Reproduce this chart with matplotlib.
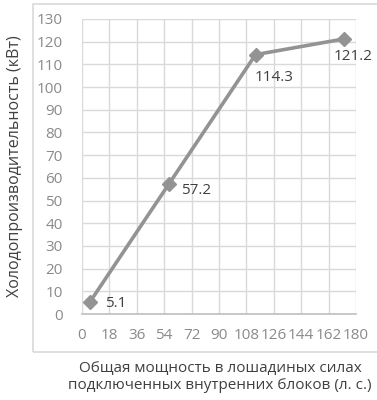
import matplotlib
matplotlib.use("Agg")
import matplotlib.pyplot as plt
from matplotlib.patches import Rectangle

plt.rcParams['font.family'] = ['Open Sans', 'DejaVu Sans']

# Connected indoor unit horsepower vs. cooling capacity
hp_total = [5, 57, 114, 172]
capacity_kw = [5.1, 57.2, 114.3, 121.2]
value_labels = ["5.1", "57.2", "114.3", "121.2"]
x_ticks = [0, 18, 36, 54, 72, 90, 108, 126, 144, 162, 180]
y_ticks = [0, 10, 20, 30, 40, 50, 60, 70, 80, 90, 100, 110, 120, 130]

x_title = "Общая мощность в лошадиных силах\nподключенных внутренних блоков (л. с.)"
y_title = "Холодопроизводительность (кВт)"

# label offsets (pixels) relative to each marker
label_offsets = [(15, -1), (12, -6), (-1, -23), (-10, -18)]

W, H = 377, 400
fig = plt.figure(figsize=(W / 100, H / 100), dpi=100)
fig.patch.set_facecolor("white")

# chart-area frame
fig.patches.append(Rectangle((33 / W, 1 - 352 / H), 1.2, (352 - 4) / H,
                             transform=fig.transFigure, fill=False,
                             edgecolor="#d9d9d9", lw=1.2))

ax = fig.add_axes([82 / W, 1 - 314 / H, (356 - 82) / W, (314 - 19) / H])
ax.set_xlim(0, 180)
ax.set_ylim(0, 130)
ax.set_xticks(x_ticks)
ax.set_yticks(y_ticks)
ax.grid(True, color="#d9d9d9", lw=1.0)
ax.set_axisbelow(True)
for s in ["top", "right", "left"]:
    ax.spines[s].set_visible(False)
ax.spines["bottom"].set_color("#bfbfbf")
ax.spines["bottom"].set_linewidth(1.2)
ax.tick_params(length=0, labelsize=11, labelcolor="#8a8a8a")
ax.tick_params(axis="y", pad=14)
ax.tick_params(axis="x", pad=10)

ax.plot(hp_total, capacity_kw, color="#939393", lw=2.6, marker="D",
        markersize=7, clip_on=False, zorder=3)

for x, y, t, (dx, dy) in zip(hp_total, capacity_kw, value_labels, label_offsets):
    ax.annotate(t, (x, y), xytext=(dx, dy), textcoords="offset pixels",
                ha="left", va="center", fontsize=11, color="#404040")

fig.text(220 / W, 1 - 377 / H, x_title, ha="center", va="center",
         fontsize=11, color="#404040", linespacing=1.2)
fig.text(15 / W, 1 - 166 / H, y_title, ha="center", va="center",
         rotation=90, fontsize=11.5, color="#404040")

fig.savefig("out.png", dpi=100, facecolor="white")
